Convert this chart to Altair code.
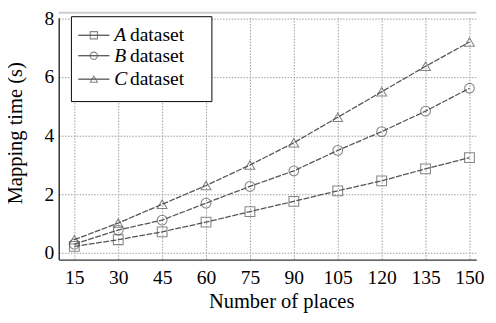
import altair as alt
import pandas as pd

places = [15, 30, 45, 60, 75, 90, 105, 120, 135, 150]
a_vals = [0.22, 0.45, 0.72, 1.05, 1.41, 1.76, 2.12, 2.46, 2.87, 3.25]
b_vals = [0.30, 0.78, 1.12, 1.70, 2.27, 2.80, 3.50, 4.14, 4.84, 5.62]
c_vals = [0.45, 1.02, 1.66, 2.30, 3.00, 3.76, 4.63, 5.50, 6.37, 7.20]
series = ["A", "B", "C"]
shapes = ["square", "circle", "triangle-up"]
y_grid = [0, 1, 2, 3, 4, 5, 6, 7, 8]

rows = []
for name, vals in zip(series, [a_vals, b_vals, c_vals]):
    for p, v in zip(places, vals):
        rows.append({"places": p, "time": v, "dataset": name})
df = pd.DataFrame(rows)
one = pd.DataFrame({"k": [0]})

FONT = "Times New Roman, Liberation Serif, serif"
W, H = 428, 248
TOP = 6

xs = alt.Scale(domain=[9.67, 152.33], nice=False, zero=False)
ys = alt.Scale(domain=[-0.23, 8.03], nice=False, zero=False)

x_enc = alt.X("places:Q", scale=xs, axis=alt.Axis(
    values=places, title="Number of places", titleX=228, titleY=49,
    titleBaseline="alphabetic", labelBaseline="alphabetic",
    labelPadding=24, tickSize=0, ticks=False))
y_enc = alt.Y("time:Q", scale=ys, axis=alt.Axis(
    values=y_grid, labelExpr="datum.value % 2 == 0 ? datum.label : ''",
    title="Mapping time (s)", titleX=-38, titleY=118,
    titleBaseline="alphabetic", titleAlign="center",
    labelPadding=5, tickSize=0, ticks=False))

lines = alt.Chart(df).mark_line(color="#555", strokeWidth=1.3, strokeDash=[6, 1.5]).encode(
    x=x_enc, y=y_enc, detail="dataset:N")
points = alt.Chart(df).mark_point(filled=False, color="#555", strokeWidth=1.1, size=100).encode(
    x="places:Q", y="time:Q",
    shape=alt.Shape("dataset:N", scale=alt.Scale(domain=series, range=shapes), legend=None))

top_rule = alt.Chart(one).mark_rule(color="#ccc", strokeWidth=2).encode(
    x=alt.value(0), x2=alt.value(W), y=alt.value(-TOP + 1))

legend_layers = [
    alt.Chart(one).mark_rect(fill="white", stroke="black", strokeWidth=1).encode(
        x=alt.value(13), x2=alt.value(157), y=alt.value(-1), y2=alt.value(86))
]
row_y = [18, 39, 63]
for name, shp, ry in zip(series, shapes, row_y):
    legend_layers.append(alt.Chart(one).mark_rule(color="#444", strokeWidth=1.2).encode(
        x=alt.value(20), x2=alt.value(52), y=alt.value(ry)))
    legend_layers.append(alt.Chart(one).mark_point(filled=False, color="#555", strokeWidth=1.1,
                                                   size=55, shape=shp).encode(
        x=alt.value(36), y=alt.value(ry)))
    legend_layers.append(alt.Chart(one).mark_text(text=name, font=FONT, fontSize=20, fontStyle="italic",
                                                  fontWeight="normal", align="left", baseline="middle",
                                                  color="black").encode(
        x=alt.value(57), y=alt.value(ry)))
    legend_layers.append(alt.Chart(one).mark_text(text="dataset", font=FONT, fontSize=20,
                                                  fontWeight="normal", align="left", baseline="middle",
                                                  color="black").encode(
        x=alt.value(73), y=alt.value(ry)))

chart = alt.layer(lines, points, top_rule, *legend_layers).properties(
    width=W, height=H,
    autosize=alt.AutoSizeParams(type="none"),
    padding={"left": 52, "top": TOP, "right": 12, "bottom": 60},
).configure_view(stroke=None).configure_axis(
    labelFont=FONT, labelFontSize=20, labelColor="black", labelFontWeight="normal",
    titleFont=FONT, titleFontSize=21, titleFontWeight="normal", titleColor="black",
    gridColor="#999", gridDash=[1.5, 1.5], gridWidth=1,
    domainColor="#333", domainWidth=1.5,
)

chart.save("out.html", embed_options={"renderer": "svg", "actions": False})
